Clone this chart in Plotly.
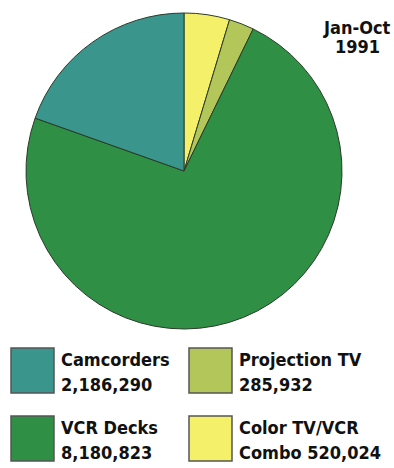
import plotly.graph_objects as go

# Data (clockwise from 12 o'clock)
labels = ["Color TV/VCR Combo", "Projection TV", "VCR Decks", "Camcorders"]
values = [520024, 285932, 8180823, 2186290]
colors = ["#f4f06a", "#b2c65a", "#2f8f45", "#3a968c"]

# Legend (2x2 grid, reading order)
legend_idx = [3, 1, 2, 0]
legend_line1 = ["Camcorders", "Projection TV", "VCR Decks", "Color TV/VCR"]
legend_line2 = ["2,186,290", "285,932", "8,180,823", "Combo 520,024"]

title_lines = ["Jan-Oct", "1991"]

W, H = 394, 468
FONT = "DejaVu Sans Condensed, sans-serif"

fig = go.Figure()
cx, cy, r = 184, 171, 158
fig.add_trace(go.Pie(
    labels=labels, values=values, sort=False, direction="clockwise", rotation=0,
    marker=dict(colors=colors, line=dict(color="#2a3a2a", width=1)),
    textinfo="none", hoverinfo="label+value", showlegend=False,
    domain=dict(x=[(cx - r) / W, (cx + r) / W], y=[1 - (cy + r) / H, 1 - (cy - r) / H]),
))

# Title annotations
for j, (t, ty) in enumerate(zip(title_lines, [27, 47])):
    fig.add_annotation(x=357 / W, y=1 - ty / H, xref="paper", yref="paper",
                       text="<b>" + t + "</b>", showarrow=False,
                       font=dict(family=FONT, size=18, color="#111"),
                       xanchor="center", yanchor="middle")

# Legend grid
box_pos = [(11, 348), (189, 348), (11, 416), (189, 416)]
for k, i in enumerate(legend_idx):
    bx, by = box_pos[k]
    fig.add_shape(type="rect", xref="paper", yref="paper",
                  x0=bx / W, x1=(bx + 43) / W, y0=1 - by / H, y1=1 - (by + 45) / H,
                  fillcolor=colors[i], line=dict(color="#555", width=1.5))
    fig.add_annotation(x=(bx + 48) / W, y=1 - (by + 11) / H, xref="paper", yref="paper",
                       text="<b>" + legend_line1[k] + "</b>", showarrow=False,
                       font=dict(family=FONT, size=18, color="#111"),
                       xanchor="left", yanchor="middle")
    fig.add_annotation(x=(bx + 48) / W, y=1 - (by + 36) / H, xref="paper", yref="paper",
                       text="<b>" + legend_line2[k] + "</b>", showarrow=False,
                       font=dict(family=FONT, size=18, color="#111"),
                       xanchor="left", yanchor="middle")

fig.update_layout(width=W, height=H, margin=dict(l=0, r=0, t=0, b=0),
                  paper_bgcolor="white", plot_bgcolor="white")
fig.write_html("out.html")
